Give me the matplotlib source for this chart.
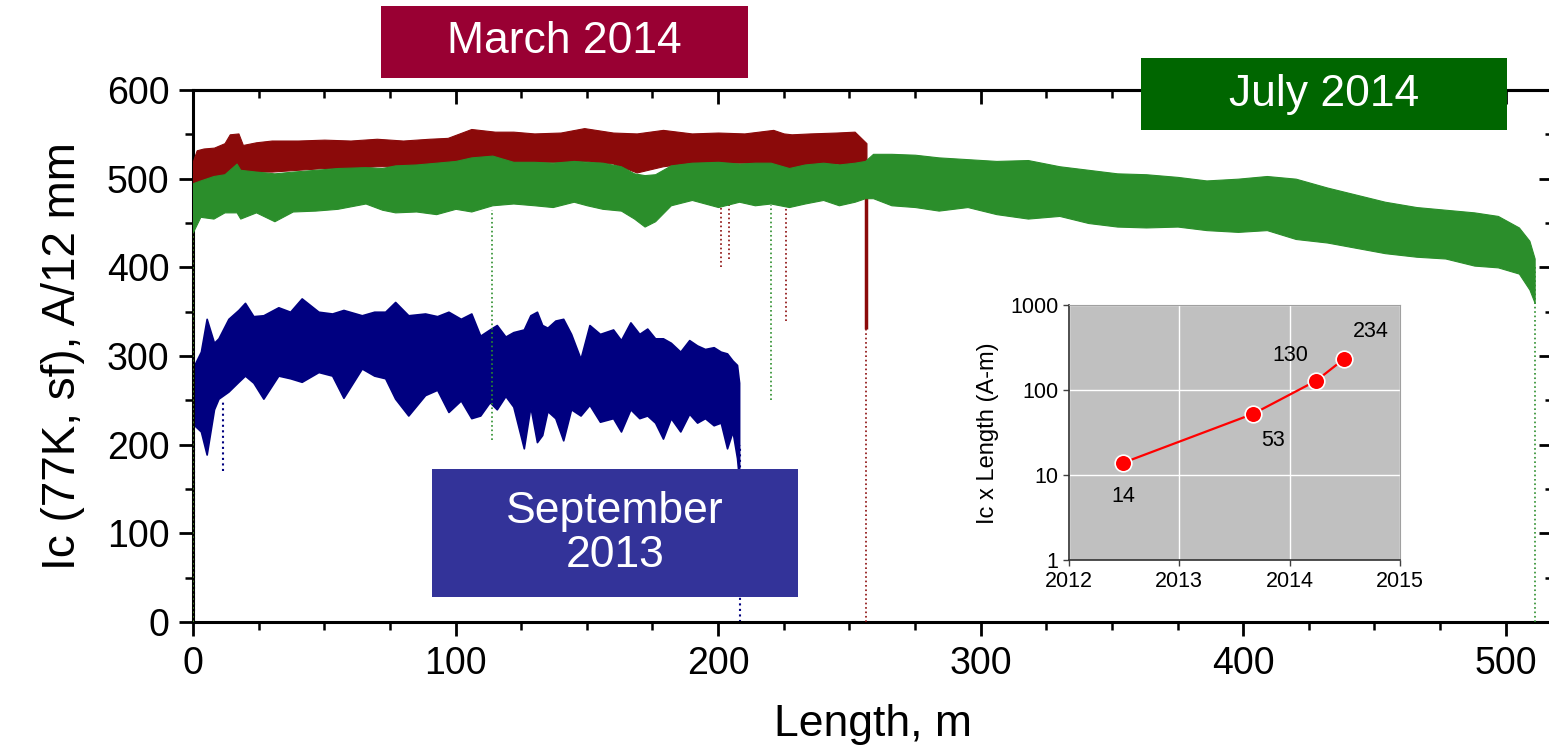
import matplotlib.pyplot as plt
from matplotlib.patches import Rectangle
from matplotlib.ticker import MultipleLocator

plt.rcParams['font.family'] = ['Liberation Sans', 'DejaVu Sans']

# March 2014 run: upper / lower edge of the dense scatter band
march_m = [0, 1.4, 4, 8, 12, 14, 17.3, 19, 24, 30, 40, 50, 60, 70, 80, 90, 97, 106, 115, 122,
           130, 140, 149, 160, 169, 179, 190, 200, 210, 221, 225, 228, 235, 245, 252, 256.5]
march_hi = [520, 532, 534, 535, 540, 550, 551, 538, 541, 543, 543, 544, 543, 545, 543, 545, 546, 556, 553, 553,
            551, 552, 557, 552, 551, 555, 551, 552, 551, 555, 551, 550, 551, 552, 553, 540]
march_lo = [450, 480, 495, 500, 500, 495, 505, 508, 508, 508, 510, 512, 512, 514, 514, 516, 517, 520, 520, 519,
            519, 519, 520, 517, 507, 514, 518, 518, 518, 516, 479, 485, 515, 517, 515, 480]

# July 2014 run
july_m = [0, 2.8, 7.8, 12, 16.6, 18, 24, 31, 38, 46.6, 55, 65.7, 72, 77, 85, 92.6, 100, 106, 114, 122,
          130, 137, 145, 150, 156, 163, 168, 172, 176, 182, 190, 200, 208, 214, 220, 227, 233, 240, 246, 252,
          256, 259, 266, 275, 284, 295, 306, 318, 330, 341, 352, 363, 375, 386, 398, 409, 420, 432, 443, 454,
          466, 477, 488, 497, 505, 509, 511]
july_hi = [495, 498, 503, 505, 517, 510, 508, 506, 508, 510, 512, 513, 512, 515, 516, 518, 520, 524, 526, 519,
           519, 518, 520, 519, 518, 514, 506, 504, 505, 515, 518, 519, 517, 518, 518, 512, 516, 518, 516, 518,
           520, 528, 528, 527, 524, 522, 520, 521, 514, 510, 506, 505, 502, 498, 500, 503, 500, 490, 482, 474,
           468, 465, 462, 458, 445, 430, 410]
july_lo = [440, 457, 455, 462, 462, 455, 462, 452, 463, 464, 466, 472, 465, 462, 463, 460, 466, 463, 470, 472,
           470, 468, 474, 470, 466, 464, 455, 446, 452, 470, 476, 468, 474, 470, 472, 468, 472, 476, 470, 474,
           478, 478, 470, 468, 464, 468, 460, 455, 458, 450, 446, 445, 446, 442, 440, 442, 432, 428, 422, 416,
           412, 410, 402, 400, 393, 375, 360]

# September 2013 run (peaks / troughs of the trace)
sept_m = [0.5, 3, 5.2, 8, 9.7, 13.5, 17.3, 19.8, 23, 26.8, 32.5, 37, 41.4, 47.8, 53, 57.3, 64.3, 69, 73.2, 77,
          82, 88.4, 93, 97.3, 102, 106, 109.4, 113, 115.7, 119, 122, 126, 128.5, 131, 133, 135, 138, 141, 144, 147.6,
          151, 155, 160, 163, 166.6, 170, 173, 176, 179, 182, 185.6, 189, 192, 195, 198.3, 201, 203.4, 205.5, 207.2, 208]
sept_hi = [290, 305, 342, 315, 320, 342, 352, 360, 345, 346, 355, 350, 365, 350, 348, 352, 346, 350, 350, 361,
           346, 348, 345, 350, 342, 348, 323, 330, 335, 322, 327, 330, 346, 350, 335, 332, 340, 342, 325, 297,
           335, 325, 330, 318, 338, 325, 331, 320, 320, 315, 305, 318, 312, 308, 310, 305, 303, 295, 290, 270]
sept_lo = [222, 215, 189, 240, 252, 260, 271, 278, 270, 252, 278, 275, 271, 282, 278, 253, 286, 278, 275, 252,
           233, 256, 262, 237, 250, 230, 233, 248, 240, 255, 243, 196, 243, 203, 211, 238, 230, 205, 240, 233,
           245, 226, 230, 215, 240, 230, 233, 225, 207, 230, 215, 235, 225, 230, 222, 225, 196, 215, 185, 160]

# sparse drop-outs (isolated points falling below the band)
march_drop_m = [0, 201, 204, 226, 256.5]
march_drop_lo = [0, 400, 410, 340, 0]
march_drop_hi = [450, 500, 500, 470, 505]
july_drop_m = [0, 114, 220, 511]
july_drop_lo = [0, 205, 250, 0]
july_drop_hi = [440, 465, 470, 400]
sept_drop_m = [0.3, 11.6, 208.5]
sept_drop_lo = [0, 170, 0]
sept_drop_hi = [280, 250, 200]

# inset: Ic x length vs date
inset_year = [2012.49, 2013.67, 2014.24, 2014.49]
inset_val = [14, 53, 130, 234]
inset_lbl = ['14', '53', '130', '234']

RED = '#8b0a0a'
GREEN = '#2b8e2b'
BLUE = '#000080'


def main():
    fig = plt.figure(figsize=(15.49, 7.56), dpi=100)
    ax = fig.add_axes([0.1246, 0.177, 0.878, 0.704])

    ax.fill_between(sept_m, sept_lo, sept_hi, color=BLUE, lw=1.2, edgecolor=BLUE, zorder=2)
    ax.vlines(sept_drop_m, sept_drop_lo, sept_drop_hi, colors=BLUE, linestyles=':', lw=1.5, zorder=2)

    ax.fill_between(march_m, march_lo, march_hi, color=RED, lw=0.8, edgecolor=RED, zorder=3)
    ax.vlines(march_drop_m, march_drop_lo, march_drop_hi, colors=RED, linestyles=':', lw=1.2, zorder=3)
    ax.vlines([256.5], [330], [505], colors=RED, lw=2.5, zorder=3)

    ax.fill_between(july_m, july_lo, july_hi, color=GREEN, lw=0.8, edgecolor=GREEN, zorder=4)
    ax.vlines(july_drop_m, july_drop_lo, july_drop_hi, colors=GREEN, linestyles=':', lw=1.2, zorder=4)

    ax.set_xlim(0, 518)
    ax.set_ylim(0, 600)
    ax.xaxis.set_major_locator(MultipleLocator(100))
    ax.xaxis.set_minor_locator(MultipleLocator(25))
    ax.yaxis.set_major_locator(MultipleLocator(100))
    ax.yaxis.set_minor_locator(MultipleLocator(50))
    ax.tick_params(which='major', direction='out', length=10, width=2, labelsize=27, pad=7)
    ax.tick_params(which='minor', direction='out', length=6, width=1.8)
    for s in ax.spines.values():
        s.set_linewidth(2.2)

    secx = ax.secondary_xaxis('top')
    secx.xaxis.set_major_locator(MultipleLocator(100))
    secx.xaxis.set_minor_locator(MultipleLocator(25))
    secx.tick_params(which='major', direction='in', length=10, width=2, labeltop=False)
    secx.tick_params(which='minor', direction='in', length=6, width=1.8)
    secx.spines['top'].set_linewidth(2.2)
    secy = ax.secondary_yaxis('right')
    secy.yaxis.set_major_locator(MultipleLocator(100))
    secy.yaxis.set_minor_locator(MultipleLocator(50))
    secy.tick_params(which='major', direction='in', length=10, width=2, labelright=False)
    secy.tick_params(which='minor', direction='in', length=6, width=1.8)

    ax.set_xlabel('Length, m', fontsize=32, labelpad=16)
    ax.set_ylabel('Ic (77K, sf), A/12 mm', fontsize=33, labelpad=16)

    # colour-coded date boxes
    boxes = [('March 2014', 0.246, 0.897, 0.237, 0.095, '#990033'),
             ('July 2014', 0.7366, 0.828, 0.2363, 0.095, '#006600'),
             ('September\n2013', 0.2789, 0.210, 0.2363, 0.169, '#333399')]
    for text, x0, y0, w, h, c in boxes:
        fig.patches.append(Rectangle((x0, y0), w, h, transform=fig.transFigure,
                                     facecolor=c, edgecolor='none', zorder=5))
        fig.text(x0 + w / 2, y0 + h / 2, text, color='white', fontsize=32,
                 ha='center', va='center', linespacing=1.1, zorder=6)

    # inset
    ins = fig.add_axes([0.690, 0.259, 0.214, 0.337])
    ins.set_facecolor('#c0c0c0')
    ins.set_yscale('log')
    ins.set_xlim(2012, 2015)
    ins.set_ylim(1, 1000)
    ins.set_xticks([2012, 2013, 2014, 2015])
    ins.set_yticks([1, 10, 100, 1000])
    ins.set_yticklabels(['1', '10', '100', '1000'])
    ins.minorticks_off()
    ins.grid(True, color='white', lw=1)
    ins.set_axisbelow(True)
    ins.plot(inset_year, inset_val, '-o', color='red', lw=1.6, ms=12,
             markeredgecolor='white', markeredgewidth=1.2, zorder=3)
    offsets = [(0, -24), (14, -19), (-19, 18), (19, 20)]
    for xv, yv, t, off in zip(inset_year, inset_val, inset_lbl, offsets):
        ins.annotate(t, (xv, yv), xytext=off, textcoords='offset points',
                     ha='center', va='center', fontsize=15.5)
    ins.tick_params(labelsize=15.5, length=4, width=1, color='#404040')
    for side in ['top', 'right']:
        ins.spines[side].set_color('#a0a0a0')
        ins.spines[side].set_linewidth(0.8)
    for side in ['left', 'bottom']:
        ins.spines[side].set_color('#303030')
        ins.spines[side].set_linewidth(1.2)
    ins.set_ylabel('Ic x Length (A-m)', fontsize=17, labelpad=8)

    fig.savefig('out.png', dpi=100)


if __name__ == '__main__':
    main()
